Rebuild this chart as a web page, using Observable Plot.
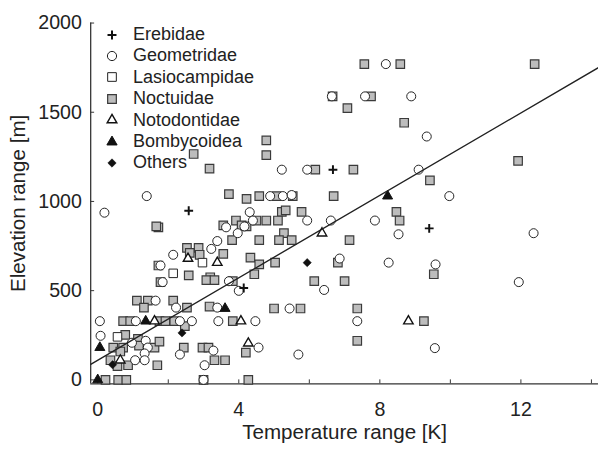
<!DOCTYPE html>
<html><head><meta charset="utf-8">
<script src="https://cdn.jsdelivr.net/npm/d3@7"></script>
<script src="https://cdn.jsdelivr.net/npm/@observablehq/plot@0.6"></script>
<style>
body{margin:0;background:#fff;}
#wrap{position:relative;width:598px;height:452px;overflow:hidden;font-family:"Liberation Sans",Arial,sans-serif;background:#fff;}
#legend{position:absolute;left:101px;top:24px;font-size:18px;color:#222;line-height:21.4px;}
#legend .row{display:flex;align-items:center;height:21.4px;white-space:nowrap;}
#legend svg{width:22px;height:20px;margin-right:10px;overflow:visible;}
</style></head>
<body><div id="wrap"><div id="chart"></div><div id="legend"></div></div>
<script>
// ---- data ----
const erebidae = [[2.58,948],[6.67,1178],[9.40,849],[4.14,515]];
const geometridae = [[8.17,1770],[6.64,1589],[7.58,1589],[8.89,1589],[9.33,1364],[5.22,1178],[5.94,1178],[9.10,1178],
  [9.97,1030],[12.36,822],[9.58,647],[11.94,548],[9.56,178],[7.36,329],[4.56,181],[5.69,142],[5.44,400],[4.89,1030],
  [5.25,1030],[5.50,1036],[4.31,940],[4.40,893],[5.94,893],[6.61,893],[7.86,893],[8.53,816],[6.86,680],[8.25,657],
  [6.42,504],[1.39,1030],[0.19,937],[3.64,855],[3.97,822],[3.39,778],[3.22,734],[2.14,701],[1.78,641],[3.72,553],
  [1.84,548],[4.00,499],[1.64,444],[2.22,405],[3.39,405],[0.06,329],[1.08,329],[2.33,329],[2.67,329],[3.42,329],
  [4.47,329],[0.08,247],[0.97,208],[1.36,219],[1.42,181],[1.33,148],[1.33,110],[1.06,110],[2.33,142],[3.28,164],
  [3.03,82],[3.00,0],[4.16,860]];
const lasiocampidae = [[2.97,657],[2.14,597],[0.56,241]];
const noctuidae = [[2.72,1266],[3.17,1184],[7.56,1770],[8.58,1770],[12.39,1770],[6.66,1589],[7.75,1589],[7.08,1523],
  [8.69,1441],[4.78,1342],[4.78,1260],[6.17,1178],[7.25,1178],[9.42,1118],[11.92,1227],[9.53,592],[9.25,329],[5.00,400],
  [5.75,400],[7.36,400],[7.36,219],[4.20,153],[4.27,0],[4.58,1030],[5.08,1030],[5.53,1030],[6.69,1030],[4.22,1014],
  [5.22,942],[5.33,950],[5.78,942],[8.47,942],[4.50,893],[4.78,893],[5.11,893],[8.56,893],[4.22,860],[5.28,822],
  [4.58,783],[5.14,783],[5.50,783],[7.14,783],[4.33,685],[4.58,647],[5.03,657],[6.81,657],[4.44,592],[6.14,553],
  [7.00,553],[3.72,1041],[3.92,893],[4.08,866],[3.56,866],[1.72,855],[1.66,860],[3.81,783],[2.53,740],[2.86,740],
  [2.61,712],[2.89,701],[3.56,706],[1.72,641],[2.58,586],[3.19,575],[3.08,559],[3.31,559],[3.83,553],[1.78,548],
  [1.11,444],[1.42,444],[1.31,405],[2.14,444],[2.53,405],[3.17,411],[0.72,329],[0.92,329],[1.75,329],[1.92,329],
  [2.17,329],[2.47,301],[3.83,329],[0.78,252],[0.44,181],[0.72,181],[0.64,159],[1.14,230],[1.17,192],[1.61,181],
  [1.75,214],[0.36,110],[0.56,77],[0.86,82],[1.69,82],[2.44,181],[2.97,181],[3.14,181],[3.31,110],[3.61,110],
  [0.22,0],[0.58,0],[0.81,0],[3.00,0]];
const notodontidae = [[2.56,680],[3.39,657],[6.36,822],[8.81,329],[4.27,205],[1.61,329],[4.06,329],[0.64,110]];
const bombycoidea = [[8.22,1030],[3.61,400],[1.36,329],[0.06,181],[0.00,0]];
const others = [[2.39,263],[5.94,657],[0.42,85]];

const familyNames = ["Erebidae","Geometridae","Lasiocampidae","Noctuidae","Notodontidae","Bombycoidea","Others"];
const xTickValues = [0,2,4,6,8,10,12,14];
const xLabelValues = [0,4,8,12];
const yTickValues = [0,500,1000,1500,2000];
const xTitle = "Temperature range [K]";
const yTitle = "Elevation range [m]";
const xDomain = [-0.2, 14.2];
const yDomain = [-22, 2000];
const fitIntercept = 110;   // regression line
const fitSlope = 115.5;

// ---- styles ----
const styles = [
  {data: erebidae,      symbol: "plus",     r: 3.0, fill: "none",    stroke: "#111", strokeWidth: 2},
  {data: geometridae,   symbol: "circle",   r: 4.6, fill: "white",   stroke: "#222", strokeWidth: 1},
  {data: lasiocampidae, symbol: "square",   r: 4.9, fill: "white",   stroke: "#222", strokeWidth: 1},
  {data: noctuidae,     symbol: "square",   r: 4.9, fill: "#bdbdbd", stroke: "#3a3a3a", strokeWidth: 1.2},
  {data: notodontidae,  symbol: "triangle", r: 3.6, fill: "white",   stroke: "#111", strokeWidth: 1.4},
  {data: bombycoidea,   symbol: "triangle", r: 3.8, fill: "#111",    stroke: "#111", strokeWidth: 1},
  {data: others,        symbol: "diamond2", r: 3.8, fill: "#111",    stroke: "#111", strokeWidth: 0.5}
];
const drawOrder = [3, 2, 1, 4, 5, 6, 0];

const fitLine = xDomain.map(x => [x, fitIntercept + fitSlope * x]);

const marks = [
  Plot.ruleX([xDomain[0]], {y1: yDomain[0], y2: yDomain[1], stroke: "#333", strokeWidth: 1.3}),
  Plot.ruleY([yDomain[0]], {stroke: "#333", strokeWidth: 1.3}),
  Plot.axisX(xTickValues, {tickSize: -4, tickFormat: () => "", stroke: "#333", label: null}),
  Plot.axisX(xLabelValues, {tickSize: 0, tickPadding: 19, fontSize: 20, tickFormat: d => String(d), label: null}),
  Plot.axisY(yTickValues, {tickSize: -4, tickPadding: 13, fontSize: 20, stroke: "#333", tickFormat: d => String(d), label: null}),
  Plot.text([xTitle], {text: d => d, frameAnchor: "bottom", textAnchor: "middle", lineAnchor: "top", dy: 41, fontSize: 21, fill: "#222"}),
  Plot.text([yTitle], {text: d => d, frameAnchor: "left", textAnchor: "middle", rotate: -90, lineAnchor: "middle", dx: -74, fontSize: 21, fill: "#222"}),
  ...drawOrder.map(i => {
    const s = styles[i];
    return Plot.dot(s.data, {x: d => d[0], y: d => d[1], symbol: () => s.symbol, r: s.r, fill: s.fill, stroke: s.stroke, strokeWidth: s.strokeWidth});
  }),
  Plot.line(fitLine, {x: d => d[0], y: d => d[1], stroke: "#222", strokeWidth: 1.4, clip: true})
];

const chart = Plot.plot({
  width: 610, height: 452,
  marginLeft: 92, marginRight: 0, marginTop: 23, marginBottom: 61,
  style: {fontFamily: '"Liberation Sans", Arial, sans-serif', fontSize: "20px", color: "#222", background: "white"},
  x: {domain: xDomain},
  y: {domain: yDomain},
  symbol: {type: "identity"},
  marks
});
document.getElementById("chart").appendChild(chart);

// ---- legend ----
const legend = d3.select("#legend");
const symMap = {plus: d3.symbolPlus, circle: d3.symbolCircle, square: d3.symbolSquare, triangle: d3.symbolTriangle, diamond2: d3.symbolDiamond2};
styles.forEach((s, i) => {
  const row = legend.append("div").attr("class", "row");
  const svg = row.append("svg");
  svg.append("path")
    .attr("transform", "translate(11,10)")
    .attr("d", d3.symbol(symMap[s.symbol], s.r * s.r * Math.PI)())
    .attr("fill", s.fill).attr("stroke", s.stroke).attr("stroke-width", s.strokeWidth);
  row.append("span").text(familyNames[i]);
});
</script>
</body></html>
